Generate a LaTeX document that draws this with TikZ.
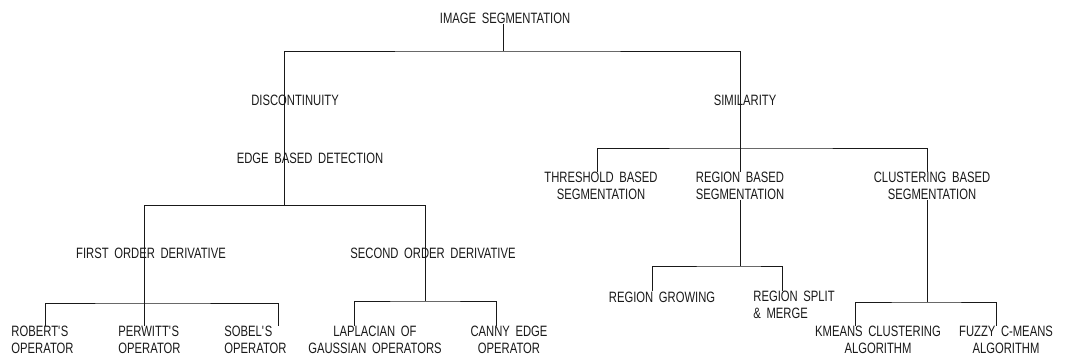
\documentclass[tikz,border=0pt]{standalone}
\usepackage{fontspec}
\setmainfont{Liberation Sans}[FakeStretch=0.75, WordSpace=1.8]
\usetikzlibrary{positioning}

\begin{document}
\begin{tikzpicture}[
    x=1pt, y=-1pt, line width=0.9pt, color=black!90,
    lbl/.style={font=\fontsize{15}{16.5}\selectfont, inner sep=0pt, align=center},
    lleft/.style={lbl, align=left, anchor=west},
]
\useasboundingbox (0,0) rectangle (1079,360);

% Nodes
\node[lbl] (root) at (505,18) {IMAGE SEGMENTATION};
\node[lbl] (disc) at (295,100) {DISCONTINUITY};
\node[lbl] (simil) at (745,100) {SIMILARITY};
\node[lbl] (edge) at (310,158) {EDGE BASED DETECTION};
\node[lbl] (first) at (151,253) {FIRST ORDER DERIVATIVE};
\node[lbl] (second) at (433,253) {SECOND ORDER DERIVATIVE};
\node[lleft] (robert) at (11,340) {ROBERT\textquotesingle S\\OPERATOR};
\node[lleft] (perwitt) at (118,340) {PERWITT\textquotesingle S\\OPERATOR};
\node[lleft] (sobel) at (224,340) {SOBEL\textquotesingle S\\OPERATOR};
\node[lbl] (laplace) at (375,340) {LAPLACIAN OF\\GAUSSIAN OPERATORS};
\node[lbl] (canny) at (509,340) {CANNY EDGE\\OPERATOR};
\node[lbl] (thresh) at (601,186) {THRESHOLD BASED\\SEGMENTATION};
\node[lbl] (regbased) at (740,186) {REGION BASED\\SEGMENTATION};
\node[lbl] (clust) at (932,186) {CLUSTERING BASED\\SEGMENTATION};
\node[lbl] (grow) at (662,297) {REGION GROWING};
\node[lleft] (split) at (753,305) {REGION SPLIT\\\& MERGE};
\node[lbl] (kmeans) at (878,340) {KMEANS CLUSTERING\\ALGORITHM};
\node[lbl] (fuzzy) at (1006,340) {FUZZY C-MEANS\\ALGORITHM};

% Junctions
\coordinate (rj) at (503,51);
\coordinate (ej) at (284,205);
\coordinate (sj) at (740,148);
\coordinate (fj) at (144,303);
\coordinate (dj) at (425,301);
\coordinate (gj) at (740,266);
\coordinate (cj) at (927,302);

% Lines
\draw (root.south -| rj) -- (rj);
\draw (ej) |- (rj) -| (regbased.north);
\draw ([xshift=-4pt]thresh.north) |- (sj) -| ([xshift=-5pt]clust.north);
\draw ([xshift=-140pt]ej) -- ([xshift=141pt]ej);
\draw ([xshift=-140pt]ej) -- (perwitt.north -| fj);
\draw ([xshift=141pt]ej) -- (dj);
\draw ([xshift=3pt]robert.north) |- (fj) -| ([xshift=23pt]sobel.north);
\draw ([xshift=-21pt]laplace.north) |- (dj) -| ([xshift=-13pt]canny.north);
\draw (regbased.south) -- (gj);
\draw ([xshift=-10pt]grow.north) |- (gj) -| ([xshift=29pt]split.north west);
\draw (clust.south -| cj) -- (cj);
\draw ([xshift=-23pt]kmeans.north) |- (cj) -| ([xshift=-10pt]fuzzy.north);

\end{tikzpicture}
\end{document}
